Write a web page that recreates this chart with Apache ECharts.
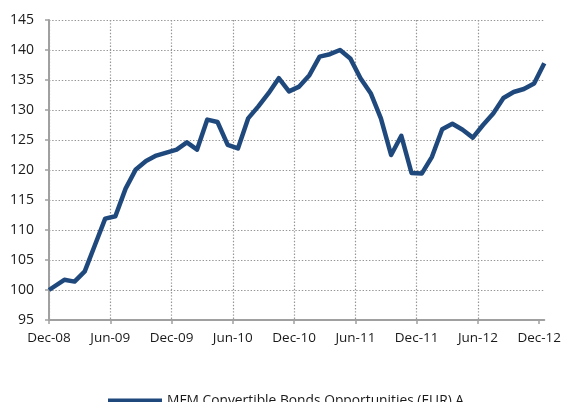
<!DOCTYPE html>
<html>
<head>
<meta charset="utf-8">
<script src="https://cdn.jsdelivr.net/npm/echarts@6/dist/echarts.min.js"></script>
<style>
html,body{margin:0;padding:0;background:#fff;}
#chart{width:564px;height:402px;}
</style>
</head>
<body>
<div id="chart"></div>
<script>
// months since Dec-08 at which each value is observed
const months = [0, 1.5, 2.5, 3.5, 4.5, 5.5, 6.5, 7.5, 8.5, 9.5, 10.5, 11.5, 12.5,
  13.5, 14.5, 15.5, 16.5, 17.5, 18.5, 19.5, 20.5, 21.5, 22.5, 23.5, 24.5,
  25.5, 26.5, 27.5, 28.5, 29.5, 30.5, 31.5, 32.5, 33.5, 34.5, 35.5, 36.5,
  37.5, 38.5, 39.5, 40.5, 41.5, 42.5, 43.5, 44.5, 45.5, 46.5, 47.5, 48.5];
const values = [100.0, 101.7, 101.4, 103.1, 107.5, 111.9, 112.3, 116.9, 120.1, 121.5, 122.4, 122.9, 123.4,
  124.6, 123.4, 128.4, 128.0, 124.2, 123.6, 128.6, 130.6, 132.8, 135.3, 133.1, 133.9,
  135.8, 138.9, 139.3, 140.0, 138.6, 135.3, 132.8, 128.6, 122.5, 125.7, 119.5, 119.4,
  122.2, 126.8, 127.7, 126.7, 125.4, 127.5, 129.4, 132.0, 133.0, 133.5, 134.4, 137.8];
const tickMonths = [0, 6, 12, 18, 24, 30, 36, 42, 48];
const tickLabels = ['Dec-08', 'Jun-09', 'Dec-09', 'Jun-10', 'Dec-10', 'Jun-11', 'Dec-11', 'Jun-12', 'Dec-12'];
const seriesName = 'MFM Convertible Bonds Opportunities (EUR) A';

const FONT = 'Open Sans';
const chart = echarts.init(document.getElementById('chart'), null, {renderer: 'canvas'});
const gridLine = {show: true, lineStyle: {color: '#959595', width: 1.2, type: [1.4, 1.8]}};
chart.setOption({
  animation: false,
  backgroundColor: '#ffffff',
  grid: {left: 49, right: 19, top: 20, bottom: 82, containLabel: false},
  legend: {
    data: [{name: seriesName, icon: 'rect'}],
    left: 103, top: 389,
    itemWidth: 54, itemHeight: 5, itemGap: 10,
    textStyle: {fontFamily: FONT, fontSize: 13.8, color: '#1a1a1a'}
  },
  xAxis: {
    type: 'value', min: 0, max: 48.5, interval: 6,
    axisLine: {show: true, lineStyle: {color: '#a0a0a0', width: 2}},
    axisTick: {show: true, length: 4, customValues: tickMonths, lineStyle: {color: '#a0a0a0', width: 1.5}},
    axisLabel: {
      customValues: tickMonths,
      margin: 11, fontFamily: FONT, fontSize: 13.5, color: '#1a1a1a',
      formatter: function (v) { const i = tickMonths.indexOf(v); return i >= 0 ? tickLabels[i] : ''; }
    },
    splitLine: Object.assign({showMaxLine: false}, gridLine)
  },
  yAxis: {
    type: 'value', min: 95, max: 145, interval: 5,
    axisLine: {show: true, lineStyle: {color: '#a0a0a0', width: 2}},
    axisTick: {show: true, length: 4, lineStyle: {color: '#a0a0a0', width: 1.5}},
    axisLabel: {margin: 15, fontFamily: FONT, fontSize: 14, color: '#1a1a1a'},
    splitLine: gridLine
  },
  series: [{
    name: seriesName,
    type: 'line',
    data: months.map((m, i) => [m, values[i]]),
    symbol: 'none',
    clip: false,
    lineStyle: {color: '#1f497d', width: 4.5, join: 'round'},
    itemStyle: {color: '#1f497d'}
  }]
});
</script>
</body>
</html>
